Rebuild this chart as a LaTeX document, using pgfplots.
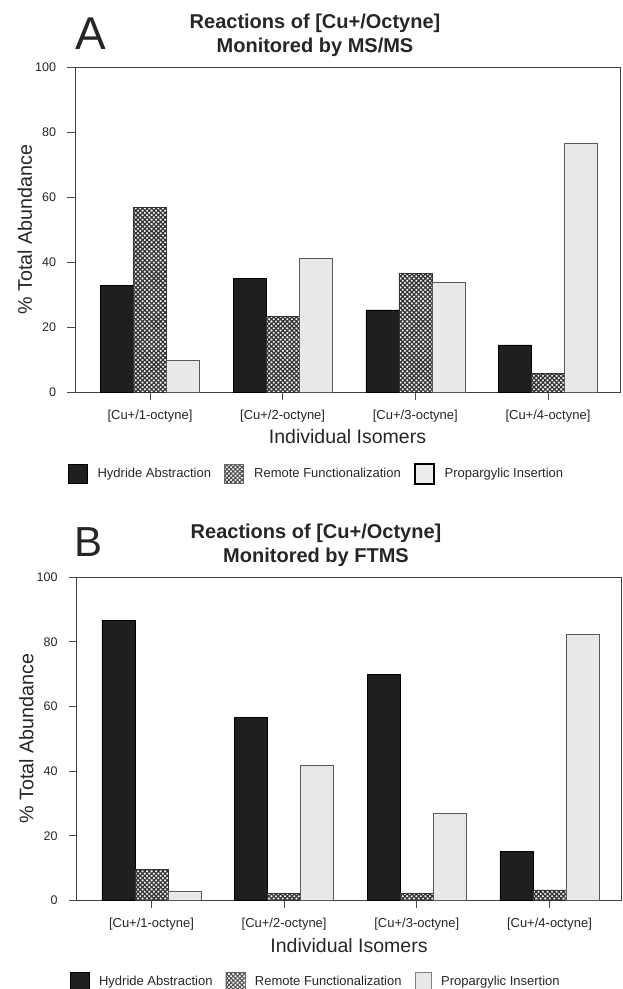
\documentclass[border=0pt]{standalone}
\usepackage{fontspec}
\setmainfont{Liberation Sans}
\usepackage{pgfplots}
\pgfplotsset{compat=1.18}
\usetikzlibrary{patterns.meta}
\definecolor{txt}{gray}{0.15}
\pgfplotsset{
  panel/.style={
    scale only axis, width=545pt,
    ymin=0, ymax=100, xmin=-0.565, xmax=3.543,
    ytick={0,20,40,60,80,100}, xtick={0,1,2,3},
    xticklabels={{[Cu+/1-octyne]},{[Cu+/2-octyne]},{[Cu+/3-octyne]},{[Cu+/4-octyne]}},
    xtick pos=bottom, ytick pos=left,
    tick align=outside, major tick length=7.5pt,
    tick style={draw=black!70, line width=0.7pt},
    axis line style={draw=black!75, line width=0.8pt},
    ybar=0pt, bar width=33pt,
    /pgf/number format/assume math mode=true,
    yticklabel style={font=\fontsize{12.5}{14}\selectfont, text=txt, xshift=-8pt},
    xticklabel style={font=\fontsize{13}{15}\selectfont, text=txt, yshift=-7pt},
    ylabel={\% Total Abundance},
    ylabel style={font=\fontsize{19.7}{22}\selectfont, text=txt, at={(axis description cs:0,0.5)}, anchor=base, yshift=43pt},
    xlabel={Individual Isomers},
    xlabel style={font=\fontsize{19.5}{22}\selectfont, text=txt, at={(axis description cs:0.5,0)}, anchor=base, yshift=-51.5pt},
    legend columns=3,
    legend style={draw=none, fill=none, at={(axis description cs:0,0)}, anchor=west,
      xshift=-7pt, yshift=-81.5pt, font=\fontsize{13}{15}\selectfont, text=txt,
      column sep=10pt, /tikz/every even column/.append style={column sep=13pt},
      inner sep=0pt, nodes={inner sep=0pt}},
  },
  hyd/.style={fill=black!88, draw=black},
  rem/.style={draw=black!80, pattern={Hatch[angle=45,distance=3.2pt,line width=1.3pt]}, pattern color=black!80},
  pro/.style={fill=black!9, draw=black!65},
}
\begin{document}
\begin{tikzpicture}
\useasboundingbox (0,0) rectangle (622pt,989pt);
% Panel A
\node[anchor=base west, font=\fontsize{46}{46}\selectfont, text=txt, inner sep=0pt] at (75pt,939pt) {A};
\node[anchor=base, font=\fontsize{20}{22}\bfseries, text=txt, inner sep=0pt] at (315pt,960pt) {Reactions of [Cu+/Octyne]};
\node[anchor=base, font=\fontsize{20}{22}\bfseries, text=txt, inner sep=0pt] at (315pt,936pt) {Monitored by MS/MS};
\begin{axis}[panel, height=325.5pt, at={(75pt,596.5pt)}, anchor=south west]
\addplot[hyd, legend image code/.code={\draw[fill=black!88,draw=black] (0pt,-9.5pt) rectangle (19pt,9.5pt);}] coordinates {(0,32.9) (1,35.1) (2,25.4) (3,14.6)};
\addplot[rem, legend image code/.code={\draw[draw=black!60, pattern={Hatch[angle=45,distance=3pt,line width=1.1pt]}, pattern color=black!70] (0pt,-9.5pt) rectangle (19pt,9.5pt);}] coordinates {(0,56.9) (1,23.3) (2,36.7) (3,5.9)};
\addplot[pro, legend image code/.code={\draw[fill=black!7,draw=black,line width=1.8pt] (1pt,-10pt) rectangle (20pt,10pt);}] coordinates {(0,10.0) (1,41.3) (2,33.8) (3,76.7)};
\legend{Hydride Abstraction, Remote Functionalization, Propargylic Insertion}
\end{axis}
% Panel B
\node[anchor=base west, font=\fontsize{42}{42}\selectfont, text=txt, inner sep=0pt] at (74pt,432pt) {B};
\node[anchor=base, font=\fontsize{20}{22}\bfseries, text=txt, inner sep=0pt] at (316pt,450pt) {Reactions of [Cu+/Octyne]};
\node[anchor=base, font=\fontsize{20}{22}\bfseries, text=txt, inner sep=0pt] at (316pt,426pt) {Monitored by FTMS};
\begin{axis}[panel, height=323.5pt, at={(76.5pt,88.5pt)}, anchor=south west]
\addplot[hyd, legend image code/.code={\draw[fill=black!88,draw=black] (0pt,-9.5pt) rectangle (19pt,9.5pt);}] coordinates {(0,86.7) (1,56.6) (2,69.9) (3,15.1)};
\addplot[rem, legend image code/.code={\draw[draw=black!60, pattern={Hatch[angle=45,distance=3pt,line width=1.1pt]}, pattern color=black!70] (0pt,-9.5pt) rectangle (19pt,9.5pt);}] coordinates {(0,9.7) (1,2.2) (2,2.2) (3,3.3)};
\addplot[pro, legend image code/.code={\draw[fill=black!9,draw=black!50,line width=0.6pt] (0pt,-9.5pt) rectangle (16pt,9.5pt);}] coordinates {(0,2.9) (1,41.9) (2,27.1) (3,82.3)};
\legend{Hydride Abstraction, Remote Functionalization, Propargylic Insertion}
\end{axis}
\end{tikzpicture}
\end{document}
